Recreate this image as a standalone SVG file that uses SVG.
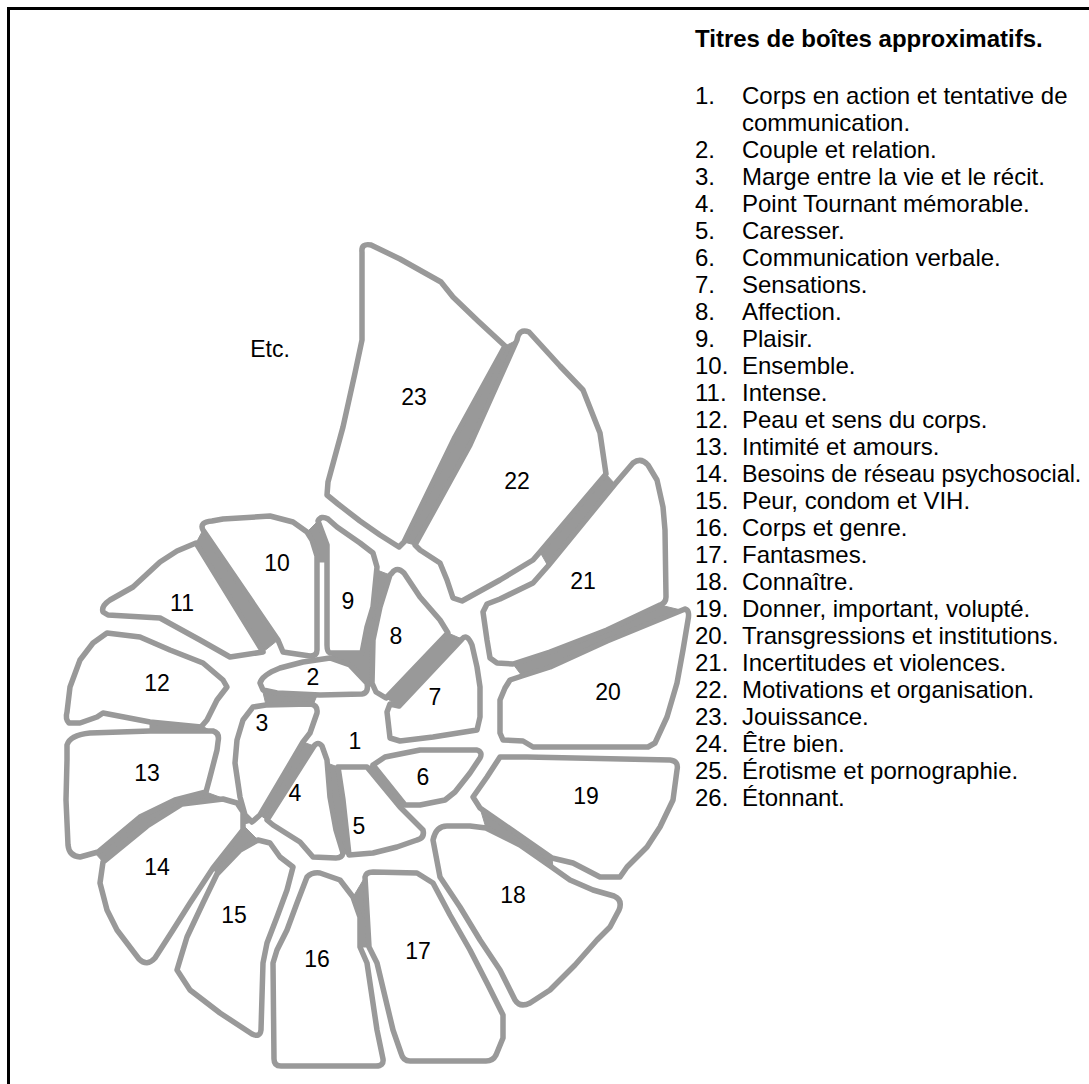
<svg xmlns="http://www.w3.org/2000/svg" width="1089" height="1084" viewBox="0 0 1089 1084">
<style>
.shape{fill:#fff;stroke:#999;stroke-width:5.5;stroke-linejoin:round}
.seam{fill:#999;stroke:#999;stroke-width:1;stroke-linejoin:round}
text{font-family:"Liberation Sans",Arial,sans-serif;fill:#000}
.lbl{font-size:23px;text-anchor:middle}
.list{font-size:24px}
.title{font-size:24px;font-weight:bold}
</style>
<rect x="0" y="0" width="1089" height="1084" fill="#fff"/>
<path d="M8.5,1084 V8.5 H1089" fill="none" stroke="#000" stroke-width="3"/>

<g id="connectors">
<path class="seam" d="M505,346 L517,340 L470,445 L415,545 L404,542 L455,437 Z"/>
<path class="seam" d="M606,474 L615,484 L548,566 L540,552 Z"/>
<path class="seam" d="M640,614 L660,605 L685,611 L607,641 L550,667 L522,676 L513,664 L550,652 L607,630 Z"/>
<path class="seam" d="M480,808 L552,858 L553,868 L486,828 Z"/>
<path class="seam" d="M353,897 L365,877 L369,947 L360,947 Z"/>
<path class="seam" d="M243,825 L258,840 L217,874 L211,866 Z"/>
<path class="seam" d="M206,792 L225,799 L182,804 L147,826 L103,862 L95,853 L140,817 L175,800 Z"/>
<path class="seam" d="M150,721 L202,726 L213,732 L150,732 Z"/>
<path class="seam" d="M203,530 L278,640 L263,652 L196,543 Z"/>
<path class="seam" d="M307,532 L318,521 L327,545 L327,562 L317,562 L312,540 Z"/>
<path class="seam" d="M377,570 L390,575 L380,607 L373,640 L372,683 L367,692 L340,666 L330,653 L362,653 L367,627 L373,607 Z"/>
<path class="seam" d="M448,633 L462,639 L399,706 L386,698 Z"/>
<path class="seam" d="M262,688 L318,693 L313,705 L266,705 Z"/>
<path class="seam" d="M303,742 L314,746 L267,820 L260,815 Z"/>
<path class="seam" d="M236,803 L248,805 L252,822 L240,825 Z"/>
<path class="seam" d="M327,763 L338,767 L343,800 L349,855 L343,853 L336,830 L330,797 Z"/>
<path class="seam" d="M367,767 L373,765 L405,805 L400,807 Z"/>
</g>

<g id="node-23"><path class="shape" d="M362,252 Q361,243 371,245 L400,259 L441,282 L453,297 L478,321 L505,346 L455,437 L404,542 L399,547 L380,535 L360,521 L338,504 L327,495 L328,482 L343,427 L355,373 L362,340 L362,283 Z"/><text class="lbl" x="414" y="405">23</text></g>
<g id="node-22"><path class="shape" d="M517,340 Q519,328 529,332 L560,366 L583,390 L600,433 L606,474 L540,552 L533,560 L500,580 L462,601 L453,598 L447,580 L440,563 L420,550 L415,545 L470,445 Z"/><text class="lbl" x="517" y="489">22</text></g>
<g id="node-21"><path class="shape" d="M633,463 Q641,457 648,465 L657,480 L663,507 L665,530 L666,597 Q666,603 660,605 L607,630 L550,652 L513,664 L497,663 L490,658 L487,640 L483,612 L487,604 L500,599 L533,583 L548,566 L615,484 Z"/><text class="lbl" x="583" y="589">21</text></g>
<g id="node-20"><path class="shape" d="M685,609 Q690,610 688,620 L683,650 L677,683 L667,717 L655,743 L648,747 L533,747 L523,741 L503,740 L500,733 L500,700 L505,688 L510,680 L522,676 L550,667 L607,641 Z"/><text class="lbl" x="608" y="700">20</text></g>
<g id="node-19"><path class="shape" d="M500,757 L527,757 L670,760 Q679,761 677,770 L673,800 L660,827 L647,847 L627,867 L620,877 L600,877 L573,863 L552,858 L480,808 L473,797 L487,777 Z"/><text class="lbl" x="586" y="804">19</text></g>
<g id="node-18"><path class="shape" d="M433,840 Q436,826 447,826 L470,826 L486,828 L520,845 L553,868 L570,880 L593,890 L614,896 Q623,900 619,910 L610,927 L597,940 L575,965 L550,990 L530,1003 Q520,1008 515,1000 L500,970 L480,940 L460,907 L440,877 Z"/><text class="lbl" x="513" y="903">18</text></g>
<g id="node-17"><path class="shape" d="M365,877 Q366,872 373,872 L417,873 L433,883 L450,915 L470,950 L488,985 L503,1015 L503,1038 L496,1055 Q493,1061 486,1061 L410,1061 Q403,1061 401,1053 L393,1030 L377,963 L369,947 Z"/><text class="lbl" x="418" y="959">17</text></g>
<g id="node-16"><path class="shape" d="M307,877 Q312,872 320,873 L340,880 L353,897 L360,917 L360,947 L367,963 L377,1030 L383,1059 Q384,1066 376,1066 L281,1066 Q274,1066 274,1059 L273,963 L277,950 L287,930 L297,903 Z"/><text class="lbl" x="317" y="967">16</text></g>
<g id="node-15"><path class="shape" d="M217,874 L240,850 L258,840 L270,843 L280,857 L293,867 L287,890 L277,917 L267,943 L263,963 L261,1030 Q260,1038 252,1034 L220,1013 L190,990 L177,970 L180,960 L187,937 L203,903 Z"/><text class="lbl" x="234" y="923">15</text></g>
<g id="node-14"><path class="shape" d="M103,862 L147,826 L182,804 L223,799 L237,803 L243,812 L243,830 L213,868 L190,903 L173,930 L155,958 Q147,967 139,959 L117,930 L107,910 L100,883 Z"/><text class="lbl" x="157" y="875">14</text></g>
<g id="node-13"><path class="shape" d="M67,745 Q70,735 90,733 L150,731 L213,731 Q220,733 218,742 L217,750 L210,777 L206,792 L175,800 L140,817 L98,852 L80,857 Q69,856 68,845 L66,800 L67,760 Z"/><text class="lbl" x="147" y="781">13</text></g>
<g id="node-12"><path class="shape" d="M107,633 L140,637 L170,650 L203,663 L223,680 L227,687 L217,700 L207,720 L201,727 L150,722 L103,713 L97,717 L80,723 L69,723 Q65,719 67,712 L70,687 L80,660 L93,643 Z"/><text class="lbl" x="157" y="691">12</text></g>
<g id="node-11"><path class="shape" d="M103,612 Q101,606 110,600 L133,587 L160,562 L177,551 L196,543 L263,652 L230,657 L200,640 L160,618 L108,615 Z"/><text class="lbl" x="182" y="611">11</text></g>
<g id="node-10"><path class="shape" d="M203,530 Q199,522 212,521 L223,519 L270,516 L293,522 L307,532 L312,540 L317,556 L317,650 Q317,656 310,656 L283,652 L278,640 Z"/><text class="lbl" x="277" y="571">10</text></g>
<g id="node-9"><path class="shape" d="M318,521 Q321,515 328,519 L337,527 L360,543 L373,553 L377,567 L373,607 L367,627 L362,653 L330,653 Q327,652 327,645 L327,545 Z"/><text class="lbl" x="348" y="609">9</text></g>
<g id="node-8"><path class="shape" d="M392,573 Q397,566 404,573 L420,597 L440,620 L448,633 L386,698 L376,692 L372,683 L373,640 L380,607 L390,575 Z"/><text class="lbl" x="396" y="644">8</text></g>
<g id="node-7"><path class="shape" d="M462,639 Q467,633 472,645 L477,667 L480,687 L480,717 L477,730 L433,737 L400,741 L390,738 L387,712 L390,704 L399,706 Z"/><text class="lbl" x="435" y="705">7</text></g>
<g id="node-6"><path class="shape" d="M373,765 L385,757 L420,750 L477,750 Q483,752 480,758 L470,773 L455,792 L445,800 L420,805 L405,805 Z"/><text class="lbl" x="423" y="785">6</text></g>
<g id="node-5"><path class="shape" d="M338,767 L367,767 L400,807 L413,820 L423,830 Q425,838 417,840 L397,847 L373,853 L349,855 L343,800 Z"/><text class="lbl" x="359" y="834">5</text></g>
<g id="node-4"><path class="shape" d="M314,746 Q318,741 322,746 L327,760 L330,797 L336,830 L343,853 Q342,858 336,858 L313,857 L300,842 L273,825 L267,820 Z"/><text class="lbl" x="295" y="801">4</text></g>
<g id="node-3"><path class="shape" d="M266,705 L310,704 Q318,705 317,713 L310,733 L303,742 L260,815 L252,822 L245,815 L240,797 L235,763 L237,740 L243,720 L253,707 Z"/><text class="lbl" x="262" y="731">3</text></g>
<g id="node-2"><path class="shape" d="M260,683 Q262,675 280,668 L303,662 L330,658 L350,665 L367,683 Q369,693 362,694 L320,695 L277,693 L263,690 Z"/><text class="lbl" x="313" y="685">2</text></g>
<g id="node-1"><text class="lbl" x="355" y="749">1</text></g>
<g id="node-etc"><text class="lbl" x="270" y="357">Etc.</text></g>

<g id="legend">
<text class="title" x="695" y="47">Titres de boîtes approximatifs.</text>
<g class="list">
<text x="695" y="104">1.</text><text x="742" y="104">Corps en action et tentative de</text>
<text x="742" y="131">communication.</text>
<text x="695" y="158">2.</text><text x="742" y="158">Couple et relation.</text>
<text x="695" y="185">3.</text><text x="742" y="185">Marge entre la vie et le récit.</text>
<text x="695" y="212">4.</text><text x="742" y="212">Point Tournant mémorable.</text>
<text x="695" y="239">5.</text><text x="742" y="239">Caresser.</text>
<text x="695" y="266">6.</text><text x="742" y="266">Communication verbale.</text>
<text x="695" y="293">7.</text><text x="742" y="293">Sensations.</text>
<text x="695" y="320">8.</text><text x="742" y="320">Affection.</text>
<text x="695" y="347">9.</text><text x="742" y="347">Plaisir.</text>
<text x="695" y="374">10.</text><text x="742" y="374">Ensemble.</text>
<text x="695" y="401">11.</text><text x="742" y="401">Intense.</text>
<text x="695" y="428">12.</text><text x="742" y="428">Peau et sens du corps.</text>
<text x="695" y="455">13.</text><text x="742" y="455">Intimité et amours.</text>
<text x="695" y="482">14.</text><text x="742" y="482" style="font-size:23.3px">Besoins de réseau psychosocial.</text>
<text x="695" y="509">15.</text><text x="742" y="509">Peur, condom et VIH.</text>
<text x="695" y="536">16.</text><text x="742" y="536">Corps et genre.</text>
<text x="695" y="563">17.</text><text x="742" y="563">Fantasmes.</text>
<text x="695" y="590">18.</text><text x="742" y="590">Connaître.</text>
<text x="695" y="617">19.</text><text x="742" y="617">Donner, important, volupté.</text>
<text x="695" y="644">20.</text><text x="742" y="644">Transgressions et institutions.</text>
<text x="695" y="671">21.</text><text x="742" y="671">Incertitudes et violences.</text>
<text x="695" y="698">22.</text><text x="742" y="698">Motivations et organisation.</text>
<text x="695" y="725">23.</text><text x="742" y="725">Jouissance.</text>
<text x="695" y="752">24.</text><text x="742" y="752">Être bien.</text>
<text x="695" y="779">25.</text><text x="742" y="779">Érotisme et pornographie.</text>
<text x="695" y="806">26.</text><text x="742" y="806">Étonnant.</text>
</g>
</g>
</svg>
